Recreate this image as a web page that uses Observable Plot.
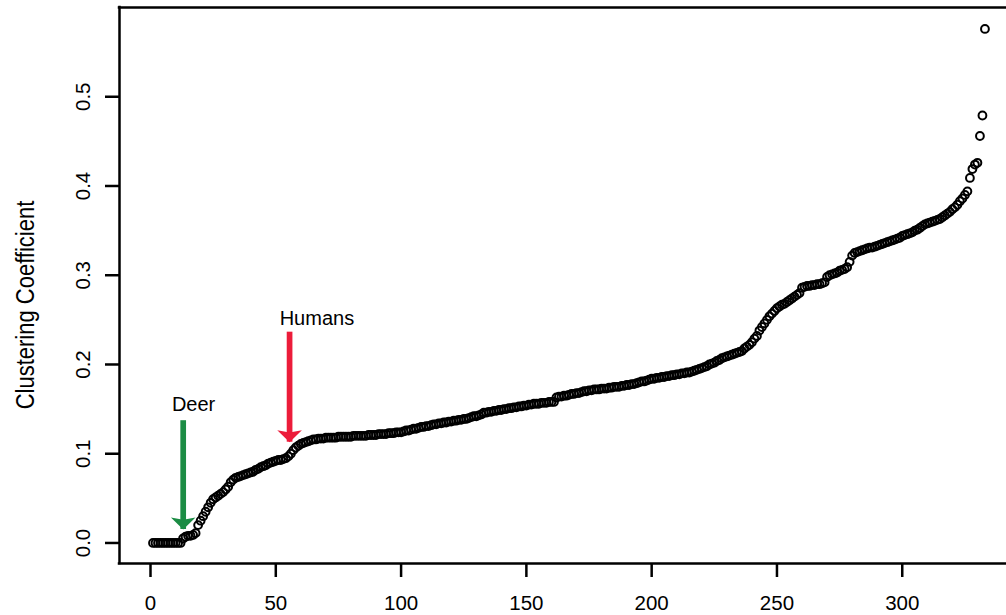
<!DOCTYPE html>
<html>
<head>
<meta charset="utf-8">
<script src="https://cdn.jsdelivr.net/npm/d3@7"></script>
<script src="https://cdn.jsdelivr.net/npm/@observablehq/plot@0.6"></script>
<style>
  html, body { margin: 0; padding: 0; background: #fff; }
  #chart svg { display: block; }
</style>
</head>
<body>
<div id="chart"></div>
<script>
// Sorted clustering coefficients (rank 1..333)
const clustering = [
  0.000,0.000,0.000,0.000,0.000,0.000,0.000,0.000,0.000,0.000,
  0.000,0.000,0.005,0.007,0.008,0.008,0.009,0.011,0.020,0.025,
  0.030,0.035,0.040,0.045,0.049,0.051,0.053,0.055,0.057,0.060,
  0.063,0.068,0.071,0.073,0.074,0.075,0.076,0.077,0.078,0.079,
  0.080,0.082,0.083,0.085,0.086,0.087,0.089,0.090,0.091,0.092,
  0.093,0.093,0.094,0.095,0.097,0.100,0.104,0.107,0.109,0.111,
  0.112,0.113,0.114,0.115,0.116,0.116,0.117,0.117,0.117,0.118,
  0.118,0.118,0.118,0.118,0.119,0.119,0.119,0.119,0.119,0.119,
  0.120,0.120,0.120,0.120,0.120,0.120,0.121,0.121,0.121,0.121,
  0.122,0.122,0.122,0.122,0.123,0.123,0.123,0.124,0.124,0.124,
  0.125,0.126,0.126,0.127,0.128,0.128,0.129,0.130,0.130,0.131,
  0.131,0.132,0.133,0.133,0.134,0.134,0.135,0.135,0.136,0.136,
  0.137,0.137,0.138,0.138,0.139,0.139,0.140,0.141,0.142,0.142,
  0.143,0.144,0.146,0.146,0.147,0.147,0.148,0.148,0.149,0.149,
  0.150,0.150,0.151,0.151,0.152,0.152,0.153,0.153,0.154,0.154,
  0.155,0.155,0.156,0.156,0.156,0.157,0.157,0.157,0.158,0.158,
  0.158,0.163,0.164,0.164,0.165,0.165,0.166,0.167,0.167,0.168,
  0.168,0.169,0.170,0.170,0.171,0.171,0.172,0.172,0.172,0.173,
  0.173,0.173,0.174,0.174,0.175,0.175,0.175,0.176,0.176,0.177,
  0.177,0.178,0.178,0.179,0.180,0.181,0.181,0.182,0.183,0.184,
  0.184,0.185,0.185,0.186,0.186,0.187,0.187,0.188,0.188,0.189,
  0.189,0.190,0.190,0.191,0.191,0.192,0.193,0.194,0.195,0.196,
  0.197,0.198,0.200,0.201,0.202,0.204,0.205,0.207,0.208,0.209,
  0.210,0.211,0.212,0.213,0.214,0.215,0.218,0.220,0.222,0.225,
  0.229,0.232,0.238,0.242,0.246,0.250,0.254,0.257,0.260,0.263,
  0.265,0.267,0.268,0.270,0.272,0.274,0.276,0.278,0.280,0.286,
  0.287,0.288,0.288,0.289,0.289,0.290,0.290,0.291,0.292,0.298,
  0.300,0.301,0.302,0.303,0.305,0.306,0.307,0.309,0.315,0.322,
  0.325,0.326,0.327,0.328,0.329,0.330,0.331,0.331,0.332,0.333,
  0.334,0.335,0.336,0.337,0.338,0.339,0.340,0.341,0.342,0.344,
  0.345,0.346,0.347,0.348,0.350,0.351,0.353,0.355,0.357,0.358,
  0.359,0.360,0.361,0.362,0.363,0.365,0.367,0.369,0.371,0.374,
  0.376,0.379,0.383,0.386,0.390,0.394,0.409,0.419,0.424,0.426,
  0.456,0.479,0.576
];

const xTicks = [0, 50, 100, 150, 200, 250, 300];
const yTicks = [0.0, 0.1, 0.2, 0.3, 0.4, 0.5];
const yTitle = "Clustering Coefficient";

// Annotations (labels and arrows), in data coordinates
const annLabels = ["Deer", "Humans"];
const annLabelX = [17.2, 66.4];
const annLabelY = [0.1556, 0.2509];
const arrowX = [13.05, 55.5];
const arrowFromY = [0.137, 0.2362];
const arrowTipY = [0.0151, 0.1129];
const arrowColors = ["#1B8C44", "#EC1C3A"];

const xDomain = [-12.37, 341.6];
const yDomain = [-0.023, 0.6];

const points = clustering.map((v, i) => ({rank: i + 1, value: v}));
const labels = annLabels.map((t, i) => ({text: t, x: annLabelX[i], y: annLabelY[i]}));
const arrows = arrowX.map((x, i) => ({x, y1: arrowFromY[i], y2: arrowTipY[i], color: arrowColors[i]}));

// arrowhead symbol: tip at the dot's anchor, pointing down, slightly notched back
const arrowHead = {
  draw(context, size) {
    const s = Math.sqrt(size / Math.PI);
    context.moveTo(0, 0);
    context.lineTo(-s, -0.98 * s);
    context.lineTo(0, -0.8 * s);
    context.lineTo(s, -0.98 * s);
    context.closePath();
  }
};

const ink = "#000";

const chart = Plot.plot({
  width: 1006,
  height: 615,
  marginLeft: 119,
  marginRight: 0,
  marginTop: 7,
  marginBottom: 52,
  style: {fontFamily: "'Liberation Sans', Arial, Helvetica, sans-serif", fontSize: "20px", color: ink, background: "#fff"},
  x: {domain: xDomain, label: null},
  y: {domain: yDomain, label: null},
  marks: [
    // box (left, top, bottom; right side lies outside the picture)
    Plot.ruleX([xDomain[0]], {stroke: ink, strokeWidth: 2.5, strokeLinecap: "square"}),
    Plot.ruleY([yDomain[0], yDomain[1]], {stroke: ink, strokeWidth: 2.5, strokeLinecap: "square"}),
    Plot.axisX({ticks: xTicks, tickSize: 14, tickPadding: 18, strokeWidth: 2.5, stroke: ink, fill: ink, tickFormat: d => String(d), label: null, fontSize: 20.5}),
    Plot.axisY({ticks: yTicks, tickSize: 14, strokeWidth: 2.5, stroke: ink, tickFormat: () => "", label: null}),
    Plot.text(yTicks, {frameAnchor: "left", y: d => d, text: d => d3.format(".1f")(d), rotate: -90, dx: -36, fontSize: 20.5, fill: ink, textAnchor: "middle", lineAnchor: "middle"}),
    Plot.text([yTitle], {frameAnchor: "left", text: d => d, rotate: -90, dx: -94, dy: 19.5, fontSize: 22, fill: ink, textAnchor: "middle", lineAnchor: "middle"}),
    Plot.dot(points, {x: "rank", y: "value", r: 3.9, stroke: ink, strokeWidth: 2, fill: "none"}),
    Plot.ruleX(arrows, {x: "x", y1: "y1", y2: "y2", stroke: "color", strokeWidth: 5.7}),
    Plot.dot(arrows, {x: "x", y: "y2", symbol: arrowHead, r: 12.3, fill: "color", stroke: "none"}),
    Plot.text(labels, {x: "x", y: "y", text: "text", fontSize: 20, fill: ink, textAnchor: "middle", lineAnchor: "middle"})
  ]
});

// the reference's rotated title has taller glyphs than its length implies
d3.select(chart).selectAll("text")
  .filter(function () { return this.textContent === yTitle; })
  .attr("transform", function () { return this.getAttribute("transform") + " scale(1,1.2)"; });

document.getElementById("chart").appendChild(chart);
</script>
</body>
</html>
